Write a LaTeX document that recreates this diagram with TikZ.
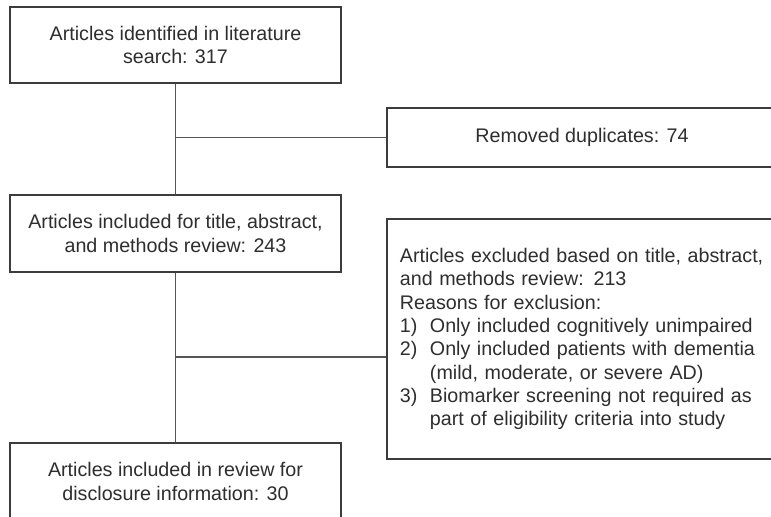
\documentclass[tikz,border=0pt]{standalone}
\usepackage{fontspec}
\setmainfont{Liberation Sans}
\usetikzlibrary{positioning}

\definecolor{boxgray}{HTML}{3C3C3C}
\definecolor{linegray}{HTML}{555555}
\definecolor{textgray}{HTML}{2E2E2E}

\newcommand{\itemnum}[1]{\makebox[0.75cm][l]{#1}}
\newcommand{\itemgap}{\hspace*{0.75cm}}

\begin{document}
\begin{tikzpicture}[x=0.025cm,y=-0.025cm]
    % Box and connector styles
    \tikzset{
        flowbox/.style={draw=boxgray, line width=1.4pt, fill=white,
            inner sep=0pt, text=textgray, align=center,
            font=\fontsize{14pt}{16.6pt}\selectfont},
        sidebox/.style={flowbox, minimum width=9.75cm},
        link/.style={draw=linegray, line width=1.2pt}
    }
    \clip (0,0) rectangle (771,517);
    \fill[white] (0,0) rectangle (771,517);

    % Main column
    \node[flowbox, minimum width=8.275cm, minimum height=1.9cm] (found) at (175.5,45)
        {Articles identified in literature\\search: 317};
    \node[flowbox, minimum width=8.275cm, minimum height=1.925cm] (screened) at (175.5,233.5)
        {Articles included for title, abstract,\\and methods review: 243};
    \node[flowbox, minimum width=8.275cm, minimum height=1.925cm] (final) at (175.5,481.5)
        {Articles included in review for\\disclosure information: 30};

    % Side boxes
    \node[sidebox, minimum height=1.475cm] (dupes) at (582,137.5)
        {Removed duplicates: 74};
    \node[sidebox, minimum height=6cm, text width=9.1cm, inner xsep=0.325cm,
        align=left] (excluded) at (582,339)
        {Articles excluded based on title, abstract,\\
         and methods review: 213\\
         Reasons for exclusion:\\
         \itemnum{1)}Only included cognitively unimpaired\\
         \itemnum{2)}Only included patients with dementia\\
         \itemgap(mild, moderate, or severe AD)\\
         \itemnum{3)}Biomarker screening not required as\\
         \itemgap part of eligibility criteria into study};

    % Connectors
    \draw[link] (found.south) -- (screened.north);
    \draw[link] (screened.south) -- (final.north);
    \coordinate (dupjoin) at (found.south |- dupes.west);
    \draw[link] (dupjoin) -- (dupes.west);
    \coordinate (excljoin) at (175.5,357);
    \draw[link] (excljoin) -- (excljoin -| excluded.west);
\end{tikzpicture}
\end{document}
